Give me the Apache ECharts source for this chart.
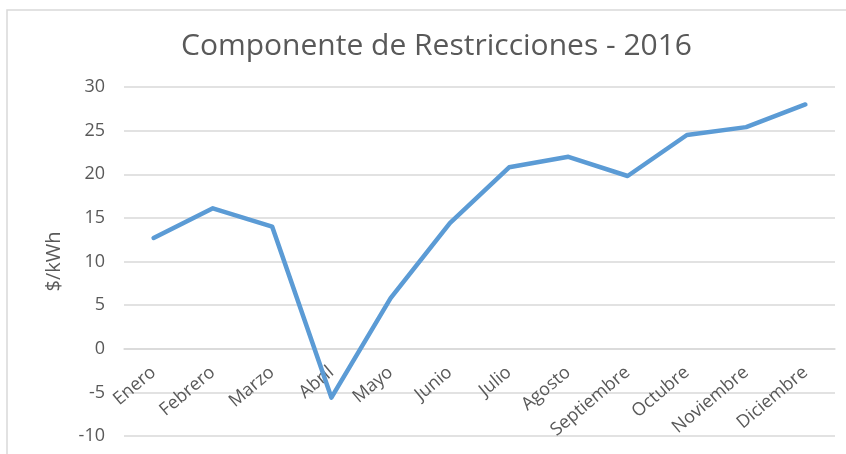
<!DOCTYPE html>
<html>
<head>
<meta charset="utf-8">
<script src="https://cdn.jsdelivr.net/npm/echarts@6/dist/echarts.min.js"></script>
<style>
  html, body { margin: 0; padding: 0; background: #fff; }
  #chart { width: 846px; height: 454px; }
</style>
</head>
<body>
<div id="chart"></div>
<script>
// meses
const months = ['Enero', 'Febrero', 'Marzo', 'Abril', 'Mayo', 'Junio', 'Julio',
  'Agosto', 'Septiembre', 'Octubre', 'Noviembre', 'Diciembre']
// componente de restricciones ($/kWh)
const restricciones = [12.7, 16.1, 14.0, -5.6, 5.8, 14.4, 20.8, 22.0, 19.8, 24.5, 25.4, 28.0]
const yMin = -10
const yMax = 30
const yStep = 5

const chart = echarts.init(document.getElementById('chart'))
const font = 'Open Sans'
const option = {
  animation: false,
  title: {
    text: 'Componente de Restricciones - 2016',
    left: 176,
    top: 26,
    textStyle: { fontFamily: font, fontSize: 30, fontWeight: 'normal', color: '#595959' }
  },
  graphic: [
    {
      type: 'rect',
      shape: { x: 7, y: 10, width: 900, height: 500 },
      style: { fill: 'none', stroke: '#d9d9d9', lineWidth: 1.5 },
      silent: true
    }
  ],
  grid: { left: 124, right: 11, top: 87, bottom: 18, containLabel: false, outerBoundsMode: 'none' },
  xAxis: {
    type: 'category',
    data: months,
    boundaryGap: true,
    axisLine: { lineStyle: { color: '#d9d9d9', width: 1.5 } },
    axisTick: { show: false },
    axisLabel: {
      // etiquetas junto a la línea del cero, como en Excel
      rotate: 40,
      margin: -66,
      interval: 0,
      hideOverlap: false,
      fontFamily: font,
      fontSize: 18,
      color: '#595959'
    }
  },
  yAxis: {
    type: 'value',
    min: yMin,
    max: yMax,
    interval: yStep,
    name: '$/kWh',
    nameLocation: 'middle',
    nameGap: 60,
    nameTextStyle: { fontFamily: font, fontSize: 20, color: '#595959' },
    axisLine: { show: false },
    axisTick: { show: false },
    axisLabel: { margin: 19, fontFamily: font, fontSize: 18, color: '#595959' },
    splitLine: { lineStyle: { color: '#d9d9d9', width: 1.5 } }
  },
  series: [
    {
      type: 'line',
      data: restricciones,
      showSymbol: false,
      z: 3,
      lineStyle: { color: '#5b9bd5', width: 4.5, cap: 'round', join: 'round' }
    }
  ]
}
chart.setOption(option)
</script>
</body>
</html>
